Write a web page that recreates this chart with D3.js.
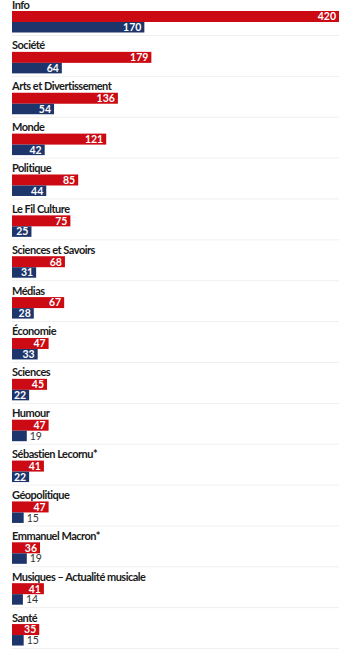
<!DOCTYPE html>
<html>
<head>
<meta charset="utf-8">
<script src="https://cdn.jsdelivr.net/npm/d3@7"></script>
<style>
  html, body { margin: 0; padding: 0; background: #fff; overflow: hidden; }
  svg { display: block; font-family: Lato, "Noto Sans", sans-serif; }
</style>
</head>
<body>
<div id="chart"></div>
<script>
const categories = [
  "Info", "Société", "Arts et Divertissement", "Monde", "Politique",
  "Le Fil Culture", "Sciences et Savoirs", "Médias", "Économie", "Sciences",
  "Humour", "Sébastien Lecornu*", "Géopolitique", "Emmanuel Macron*",
  "Musiques – Actualité musicale", "Santé"
];
const redValues  = [420, 179, 136, 121, 85, 75, 68, 67, 47, 45, 47, 41, 47, 36, 41, 35];
const blueValues = [170, 64, 54, 42, 44, 25, 31, 28, 33, 22, 19, 22, 15, 19, 14, 15];

const width = 345, height = 649;
const rowH = 40.87;
const minInside = 16; // narrower bars get their value outside

const svg = d3.select("#chart").append("svg")
  .attr("width", width)
  .attr("height", height);

const x = d3.scaleLinear()
  .domain([0, d3.max(redValues)])
  .range([12, 339]);

const y = d3.scaleBand()
  .domain(categories)
  .range([-4, -4 + rowH * categories.length])
  .padding(0);

const data = categories.map((c, i) => ({ cat: c, red: redValues[i], blue: blueValues[i] }));

const rows = svg.selectAll("g.row")
  .data(data)
  .enter()
  .append("g")
  .attr("class", "row")
  .attr("transform", d => "translate(0," + y(d.cat) + ")");

rows.append("line")
  .attr("x1", 12).attr("x2", 339)
  .attr("y1", 39.5).attr("y2", 39.5)
  .attr("stroke", "#efefef")
  .attr("stroke-width", 1);

rows.append("text")
  .attr("x", 12)
  .attr("y", 12.5)
  .attr("font-size", 11)
  .attr("font-weight", 700)
  .attr("letter-spacing", "-0.5px")
  .attr("fill", "#1a1a1a")
  .text(d => d.cat);

const series = [
  { key: "red", color: "#cc0a14", top: 15, h: 11 },
  { key: "blue", color: "#1d356b", top: 26, h: 10.5 }
];

series.forEach(s => {
  rows.append("rect")
    .attr("x", x(0))
    .attr("y", s.top)
    .attr("width", d => x(d[s.key]) - x(0))
    .attr("height", s.h)
    .attr("fill", s.color);

  rows.append("text")
    .attr("y", s.top + s.h / 2)
    .attr("dy", "0.37em")
    .attr("font-size", 10.5)
    .text(d => d[s.key])
    .each(function (d) {
      const t = d3.select(this);
      const barW = x(d[s.key]) - x(0);
      if (barW >= minInside) {
        t.attr("x", x(d[s.key]) - 3)
          .attr("text-anchor", "end")
          .attr("font-weight", 700)
          .attr("fill", "#fff");
      } else {
        t.attr("x", x(d[s.key]) + 3)
          .attr("text-anchor", "start")
          .attr("fill", "#333");
      }
    });
});
</script>
</body>
</html>
